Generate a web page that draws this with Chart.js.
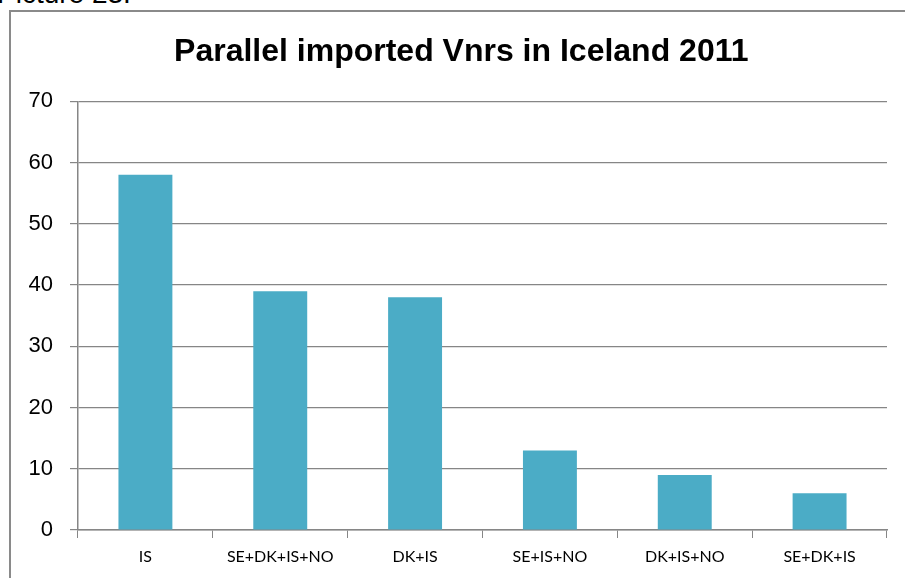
<!DOCTYPE html>
<html>
<head>
<meta charset="utf-8">
<script src="https://cdn.jsdelivr.net/npm/chart.js@4"></script>
<style>
  html, body { margin: 0; padding: 0; background: #fff; overflow: hidden; }
  #wrap { position: relative; width: 905px; height: 578px; overflow: hidden; }
  #frame { position: absolute; left: 9px; top: 10px; width: 1000px; height: 1000px;
           border: 2px solid #8a8a8a; box-sizing: border-box; }
  #caption { position: absolute; left: -3px; top: -20px; font: 28px "Liberation Sans", Arial, sans-serif;
             line-height: 28px; color: #000; white-space: nowrap; }
  #chart { position: absolute; left: 0; top: 0; }
</style>
</head>
<body>
<div id="wrap">
  <div id="caption">Picture 23.</div>
  <div id="frame"></div>
  <canvas id="chart" width="905" height="578"></canvas>
</div>
<script>
const categories = ["IS", "SE+DK+IS+NO", "DK+IS", "SE+IS+NO", "DK+IS+NO", "SE+DK+IS"];
const counts = [58, 39, 38, 13, 9, 6];
const yMin = 0;
const yMax = 70;
const yStep = 10;

const axisGray = "#868686";

const ctx = document.getElementById("chart");
window.myBar = new Chart(ctx, {
  type: "bar",
  data: {
    labels: categories,
    datasets: [
      {
        label: "Vnrs",
        data: counts,
        backgroundColor: "#4BACC6",
        barPercentage: 0.4,
        categoryPercentage: 1,
      },
    ],
  },
  options: {
    responsive: false,
    animation: false,
    layout: { padding: { left: 0, right: 18, top: 0, bottom: 0 } },
    plugins: {
      legend: { display: false },
      tooltip: { enabled: false },
      title: {
        display: true,
        // leading spaces nudge the centred title right, as in the original
        text: "    Parallel imported Vnrs in Iceland 2011",
        color: "#000",
        font: { family: "'Liberation Sans', Arial, sans-serif", size: 32, weight: "bold" },
        padding: { top: 33, bottom: 30 },
      },
    },
    scales: {
      x: {
        grid: {
          display: true,
          offset: true,
          drawOnChartArea: false,
          color: axisGray,
          tickLength: 8,
        },
        border: { color: axisGray, width: 1.5 },
        ticks: {
          color: "#000",
          padding: 9,
          maxRotation: 0,
          font: { family: "Lato, 'Open Sans', sans-serif", size: 16 },
        },
        afterFit: (scale) => { scale.height = 48; },
      },
      y: {
        min: yMin,
        max: yMax,
        grid: { color: axisGray, tickLength: 8, lineWidth: 1.2 },
        border: { color: axisGray, width: 1.5 },
        ticks: {
          stepSize: yStep,
          color: "#000",
          padding: 17,
          font: { family: "'Liberation Sans', Arial, sans-serif", size: 22 },
        },
        afterFit: (scale) => { scale.width = 78; },
      },
    },
  },
});
</script>
</body>
</html>
